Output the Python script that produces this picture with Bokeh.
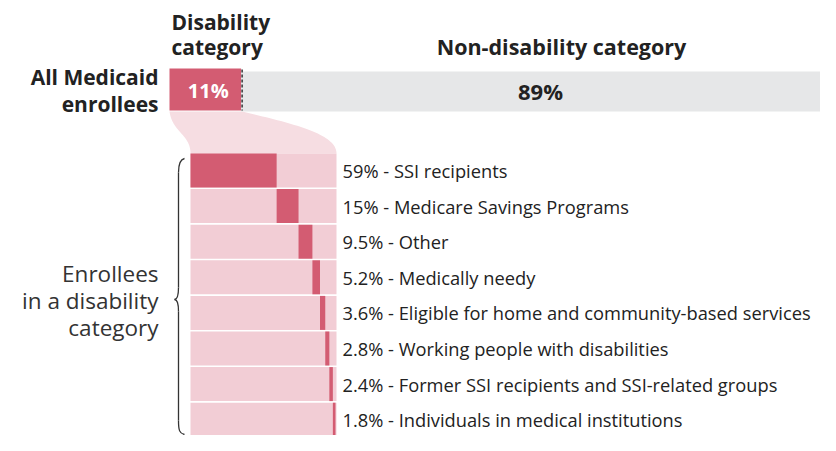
from bokeh.plotting import figure
from bokeh.models import Range1d
from bokeh.core.properties import value
from bokeh.embed import file_html
from bokeh.resources import INLINE
import numpy as np

# ---------------- data ----------------
top_categories = ["Disability category", "Non-disability category"]
top_values = [11, 89]
top_value_labels = ["11%", "89%"]

sub_categories = [
    "SSI recipients",
    "Medicare Savings Programs",
    "Other",
    "Medically needy",
    "Eligible for home and community-based services",
    "Working people with disabilities",
    "Former SSI recipients and SSI-related groups",
    "Individuals in medical institutions",
]
sub_values = [59, 15, 9.5, 5.2, 3.6, 2.8, 2.4, 1.8]
sub_value_labels = ["59%", "15%", "9.5%", "5.2%", "3.6%", "2.8%", "2.4%", "1.8%"]

# ---------------- style ----------------
DARK = "#d35c72"
LIGHT = "#f2cdd5"
CONNECT = "#f6dde2"
GREY = "#e6e7e8"
TXT = "#222222"
FONT = "Open Sans"

W, H = 820, 435
p = figure(width=W, height=H, x_range=Range1d(0, W), y_range=Range1d(H, 0),
           output_backend="svg", toolbar_location=None,
           x_axis_type=None, y_axis_type=None, min_border=0)
p.outline_line_color = None
p.grid.visible = False
p.background_fill_color = "white"
p.border_fill_color = "white"

# ---------------- top bar ----------------
TX0, TX1 = 169, 820
def tx(v):
    return TX0 + v / 100.0 * (TX1 - TX0)

tcum = np.concatenate([[0], np.cumsum(top_values)])
p.quad(left=[tx(tcum[0])], right=[tx(tcum[1])], top=[68], bottom=[110],
       fill_color=DARK, line_color=None)
p.quad(left=[tx(tcum[1])], right=[tx(tcum[2])], top=[71], bottom=[111],
       fill_color=GREY, line_color=None)
p.segment(x0=[tx(tcum[1]) + 1], y0=[69], x1=[tx(tcum[1]) + 1], y1=[110],
          line_color="#333333", line_width=1.5, line_dash="3 2")

p.text(x=[(tx(tcum[0]) + tx(tcum[1])) / 2 + 3], y=[90], text=[top_value_labels[0]],
       text_color="white", text_font=value(FONT), text_font_style="bold",
       text_font_size="20px", text_align="center", text_baseline="middle")
p.text(x=[540], y=[90], text=[top_value_labels[1]],
       text_color=TXT, text_font=value(FONT), text_font_style="bold",
       text_font_size="22px", text_align="center", text_baseline="middle")

# headers
p.text(x=[171, 171], y=[21, 46], text=["Disability", "category"],
       text_color=TXT, text_font=value(FONT), text_font_style="bold",
       text_font_size="21px", text_align="left", text_baseline="middle")
p.text(x=[561], y=[46], text=[top_categories[1]],
       text_color=TXT, text_font=value(FONT), text_font_style="bold",
       text_font_size="21.5px", text_align="center", text_baseline="middle")
p.text(x=[158, 158], y=[76, 103], text=["All Medicaid", "enrollees"],
       text_color=TXT, text_font=value(FONT), text_font_style="bold",
       text_font_size="21px", text_align="right", text_baseline="middle")

# ---------------- connector ----------------
BX0, BX1 = 190, 336
def bx(v):
    return BX0 + v / 100.0 * (BX1 - BX0)

def bez(p0, p1, p2, p3, n=40):
    t = np.linspace(0, 1, n)[:, None]
    pts = ((1 - t) ** 3) * np.array(p0) + 3 * ((1 - t) ** 2) * t * np.array(p1) \
        + 3 * (1 - t) * t ** 2 * np.array(p2) + t ** 3 * np.array(p3)
    return pts

ROW_TOP = 153
x_top_l, x_top_r = tx(tcum[0]), tx(tcum[1]) + 1
left_edge = bez((x_top_l, 111), (x_top_l + 3, 132), (BX0, 134), (BX0, ROW_TOP))
right_edge = bez((x_top_r, 111), (x_top_r + 55, 124), (BX1, 134), (BX1, ROW_TOP))
poly = np.vstack([left_edge, right_edge[::-1]])
p.patch(x=poly[:, 0], y=poly[:, 1], fill_color=CONNECT, line_color=None)

# ---------------- sub bars ----------------
PITCH = 35.6
ROW_H = 34.0
n = len(sub_values)
scum = np.concatenate([[0], np.cumsum(sub_values)])
tops = [ROW_TOP + i * PITCH for i in range(n)]
bottoms = [t + ROW_H for t in tops]
centers = [t + ROW_H / 2 for t in tops]

p.quad(left=[bx(0)] * n, right=[bx(100)] * n, top=tops, bottom=bottoms,
       fill_color=LIGHT, line_color=None)
p.quad(left=[bx(v) for v in scum[:-1]], right=[bx(v) for v in scum[1:]],
       top=tops, bottom=bottoms, fill_color=DARK, line_color=None)

labels = [f"{l} - {c}" for l, c in zip(sub_value_labels, sub_categories)]
p.text(x=[342] * n, y=centers, text=labels, text_color=TXT, text_font=value(FONT),
       text_font_size="18.3px", text_align="left", text_baseline="middle")

# ---------------- brace + label ----------------
BR = "#333333"
p.bezier(x0=[184, 178, 174, 178], y0=[158, 287, 299, 420],
         x1=[178, 174, 178, 184], y1=[172, 299, 311, 434],
         cx0=[179, 178, 177, 178], cy0=[159, 295, 299, 430],
         cx1=[178, 177, 178, 179], cy1=[165, 299, 303, 433],
         line_color=BR, line_width=1.3)
p.segment(x0=[178, 178], y0=[172, 311], x1=[178, 178], y1=[287, 420],
          line_color=BR, line_width=1.3)

p.text(x=[158, 158, 158], y=[273, 300, 327],
       text=["Enrollees", "in a disability", "category"],
       text_color="#333333", text_font=value(FONT), text_font_size="22.5px",
       text_align="right", text_baseline="middle")

open("out.html", "w").write(file_html(p, INLINE))
